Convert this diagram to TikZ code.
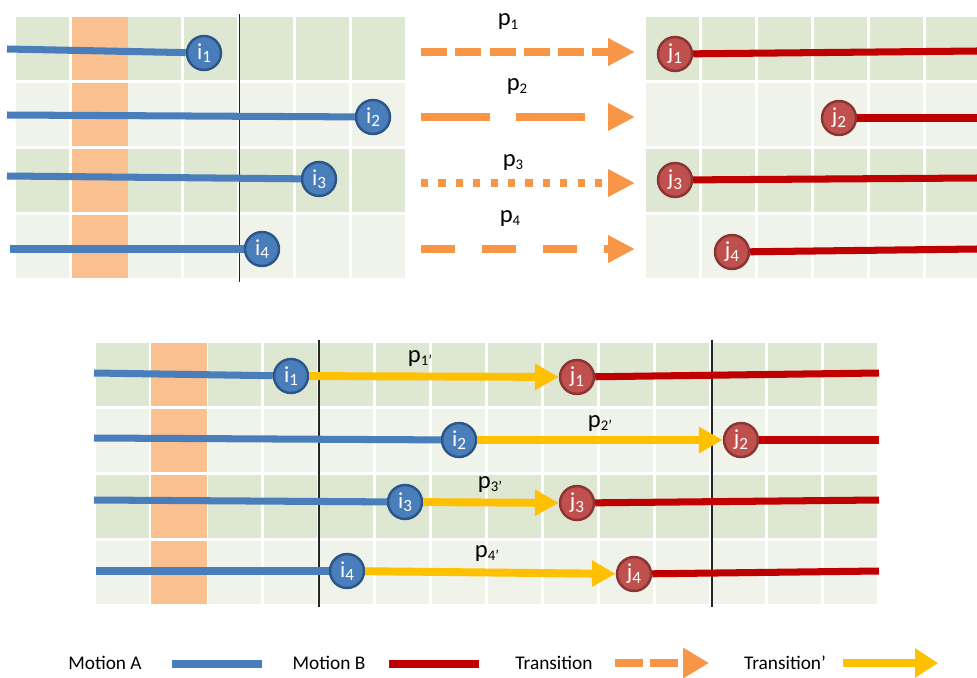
\documentclass[tikz,border=0pt]{standalone}
\usepackage{fontspec}
\setmainfont{Carlito}
\usetikzlibrary{calc,arrows.meta,positioning}

\definecolor{gridD}{HTML}{DDE7D2}
\definecolor{gridL}{HTML}{EFF3EA}
\definecolor{bandO}{HTML}{FAC090}
\definecolor{motA}{HTML}{4A7EBB}
\definecolor{motAedge}{HTML}{2C5688}
\definecolor{motB}{HTML}{C00000}
\definecolor{jfill}{HTML}{C0504D}
\definecolor{jedge}{HTML}{8A3533}
\definecolor{transO}{HTML}{F79646}
\definecolor{transY}{HTML}{FFC000}

\newcommand{\lowidx}[2][0.6]{\raisebox{-0.3ex}{\scalebox{#1}{#2}}}

\tikzset{
    motionA/.style={draw=motA, line width=4pt},
    motionB/.style={draw=motB, line width=4pt},
    istate/.style={circle, inner sep=0pt, minimum size=0.68cm, fill=motA,
        draw=motAedge, line width=1.4pt, text=white, font=\fontsize{13}{14}\selectfont},
    jstate/.style={istate, fill=jfill, draw=jedge},
    trans/.style={draw=transO, line width=4.5pt, -{Triangle[length=15.3pt,width=14.7pt]}},
    transP/.style={draw=transY, line width=4.5pt, -{Triangle[length=13.6pt,width=14.2pt]}},
    plabel/.style={inner sep=0pt, font=\fontsize{14}{16}\selectfont},
    legend/.style={inner sep=0pt, font=\fontsize{11}{12}\selectfont},
    cut/.style={draw=black!85, line width=0.6pt},
}

\begin{document}
\begin{tikzpicture}[x=0.02cm, y=-0.02cm]

    \useasboundingbox (0,0) rectangle (977,677);

    % cells
    \foreach \r/\c in {0/gridD,1/gridL,2/gridD,3/gridL}{
        \foreach \k in {0,...,6}
            \fill[\c] ({16+56*\k},{17+66*\r}) rectangle +(53,63);
        \fill[bandO] (72,{17+66*\r}) rectangle +(56,63);
        \foreach \k in {0,...,5}
            \fill[\c] ({646+56*\k},{17+66*\r}) rectangle +(53,63);
        \foreach \k in {0,...,13}
            \fill[\c] ({96+56*\k},{342.5+66*\r}) rectangle +(53,63);
        \fill[bandO] (151,{342.5+66*\r}) rectangle +(56,63);
    }

    \draw[cut] (239.5,14) -- (239.5,282);
    \draw[cut] (319,340) -- (319,607);
    \draw[cut] (712,340) -- (712,607);

    % top row: states
    \node[istate] (ti1) at (204,53) {i\lowidx[0.75]{1}};
    \node[istate] (ti2) at (373,117) {i\lowidx[0.75]{2}};
    \node[istate] (ti3) at (319,179) {i\lowidx[0.75]{3}};
    \node[istate] (ti4) at (262,249) {i\lowidx[0.75]{4}};

    \node[jstate] (tj1) at (675,54) {j\lowidx[0.75]{1}};
    \node[jstate] (tj2) at (839,118) {j\lowidx[0.75]{2}};
    \node[jstate] (tj3) at (675,180) {j\lowidx[0.75]{3}};
    \node[jstate] (tj4) at (732,252) {j\lowidx[0.75]{4}};

    \coordinate (ta1) at (7,49);
    \coordinate (ta2) at (7,115);
    \coordinate (ta3) at (7,176);
    \coordinate (ta4) at (10,249);

    \coordinate (tb1) at (977,51);
    \coordinate (tb2) at (977,118);
    \coordinate (tb3) at (977,178);
    \coordinate (tb4) at (977,249);

    \draw[motionA] (ta1) -- (ti1);
    \draw[motionA] (ta2) -- (ti2);
    \draw[motionA] (ta3) -- (ti3);
    \draw[motionA] (ta4) -- (ti4);

    \draw[motionB] (tj1) -- (tb1);
    \draw[motionB] (tj2) -- (tb2);
    \draw[motionB] (tj3) -- (tb3);
    \draw[motionB] (tj4) -- (tb4);

    % top row: transitions
    \coordinate (s1) at (421,52);
    \coordinate (e1) at (635,52);
    \coordinate (s2) at (421,117);
    \coordinate (e2) at (635,117);
    \coordinate (s3) at (421,183);
    \coordinate (e3) at (635,183);
    \coordinate (s4) at (421,249);
    \coordinate (e4) at (635,249);

    \draw[trans, dash pattern=on 0.52cm off 0.166cm] (s1) -- (e1);
    \draw[trans, dash pattern=on 1.38cm off 0.52cm] (s2) -- (e2);
    \draw[trans, dash pattern=on 0.146cm off 0.202cm] (s3) -- (e3);
    \draw[trans, dash pattern=on 0.68cm off 0.54cm] (s4) -- (e4);

    \node[plabel] (tp1) at (508,22) {p\lowidx{1}};
    \node[plabel] (tp2) at (517,86) {p\lowidx{2}};
    \node[plabel] (tp3) at (513,162) {p\lowidx{3}};
    \node[plabel] (tp4) at (510,218) {p\lowidx{4}};

    % bottom row
    \node[istate] (bi1) at (291,376) {i\lowidx[0.75]{1}};
    \node[istate] (bi2) at (459,440) {i\lowidx[0.75]{2}};
    \node[istate] (bi3) at (405,502) {i\lowidx[0.75]{3}};
    \node[istate] (bi4) at (347,571) {i\lowidx[0.75]{4}};

    \node[jstate] (bj1) at (577,377) {j\lowidx[0.75]{1}};
    \node[jstate] (bj2) at (741,440) {j\lowidx[0.75]{2}};
    \node[jstate] (bj3) at (577,503) {j\lowidx[0.75]{3}};
    \node[jstate] (bj4) at (634,574) {j\lowidx[0.75]{4}};

    \coordinate (ba1) at (94,373);
    \coordinate (ba2) at (94,438);
    \coordinate (ba3) at (94,500);
    \coordinate (ba4) at (96,571);

    \coordinate (bb1) at (879,373);
    \coordinate (bb2) at (879,440);
    \coordinate (bb3) at (879,500);
    \coordinate (bb4) at (879,571);

    \draw[motionA] (ba1) -- (bi1);
    \draw[motionA] (ba2) -- (bi2);
    \draw[motionA] (ba3) -- (bi3);
    \draw[motionA] (ba4) -- (bi4);

    \draw[transP] (bi1) -- (bj1);
    \draw[transP] (bi2) -- (bj2);
    \draw[transP] (bi3) -- (bj3);
    \draw[transP] (bi4) -- (bj4);

    \draw[motionB] (bj1) -- (bb1);
    \draw[motionB] (bj2) -- (bb2);
    \draw[motionB] (bj3) -- (bb3);
    \draw[motionB] (bj4) -- (bb4);

    \node[plabel] (bp1) at (420,358) {p\lowidx{1’}};
    \node[plabel] (bp2) at (600,423) {p\lowidx{2’}};
    \node[plabel] (bp3) at (490,484) {p\lowidx{3’}};
    \node[plabel] (bp4) at (487,553) {p\lowidx{4’}};

    % legend
    \node[legend] (lgA) at (105,663) {Motion A};
    \node[legend] (lgB) at (329,663) {Motion B};
    \node[legend] (lgT) at (554,663) {Transition};
    \node[legend] (lgP) at (785,663) {Transition’};

    \coordinate (lA1) at (172,664);
    \coordinate (lA2) at (262,664);
    \coordinate (lB1) at (389,664);
    \coordinate (lB2) at (479,664);
    \coordinate (lT1) at (615,663);
    \coordinate (lT2) at (709,663);
    \coordinate (lP1) at (843,663);
    \coordinate (lP2) at (938,663);

    \draw[motionA] (lA1) -- (lA2);
    \draw[motionB] (lB1) -- (lB2);
    \draw[trans, -{Triangle[length=14.7pt,width=16.4pt]}, dash pattern=on 0.56cm off 0.14cm] (lT1) -- (lT2);
    \draw[transP, line width=5pt, -{Triangle[length=13pt,width=15.9pt]}] (lP1) -- (lP2);

\end{tikzpicture}
\end{document}
